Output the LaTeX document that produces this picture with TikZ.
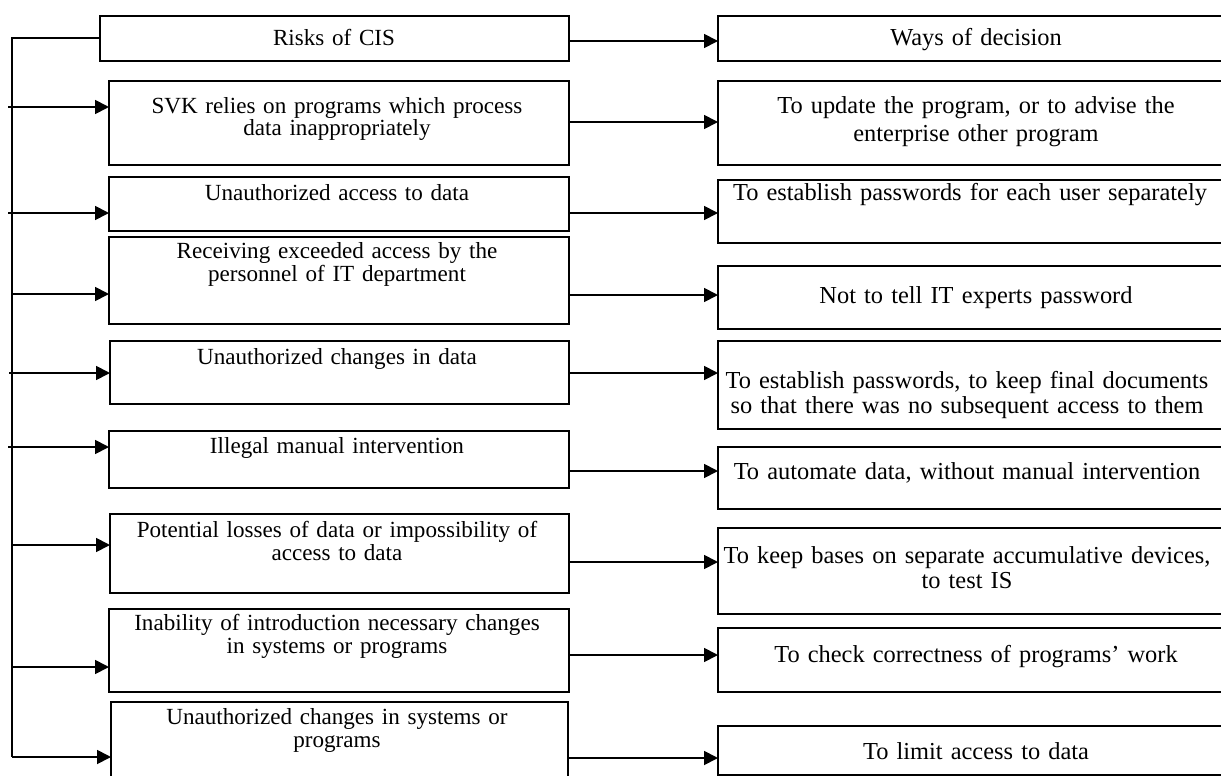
\documentclass[tikz,border=0pt]{standalone}
\usepackage{fontspec}
\setmainfont{Liberation Serif}
\usetikzlibrary{arrows.meta}
\begin{document}
\begin{tikzpicture}[x=1pt,y=-1pt,
  boxsty/.style={draw, line width=1.8pt, anchor=north west, inner sep=0pt, outer sep=0pt},
  ltxt/.style={anchor=base, align=center, text width=460pt, inner sep=0pt, font=\fontsize{23.1}{23}\selectfont},
  rtxt/.style={anchor=base, align=center, text width=510pt, inner sep=0pt, font=\fontsize{24.4}{25}\selectfont},
  arr/.style={line width=1.8pt, -{Triangle[length=14pt,width=14pt]}},
  trunk/.style={line width=1.8pt}]
\useasboundingbox (0,0) rectangle (1221,776);
% left boxes
\node[boxsty, minimum width=469pt, minimum height=45pt] (L1) at (100,16) {};
\node[boxsty, minimum width=460pt, minimum height=84pt] (L2) at (109,81) {};
\node[boxsty, minimum width=460pt, minimum height=54pt] (L3) at (109,177) {};
\node[boxsty, minimum width=460pt, minimum height=87pt] (L4) at (109,237) {};
\node[boxsty, minimum width=459pt, minimum height=63pt] (L5) at (110,341) {};
\node[boxsty, minimum width=460pt, minimum height=57pt] (L6) at (109,431) {};
\node[boxsty, minimum width=459pt, minimum height=79pt] (L7) at (110,514) {};
\node[boxsty, minimum width=460pt, minimum height=83pt] (L8) at (109,609) {};
\node[boxsty, minimum width=457pt, minimum height=100pt] (L9) at (111,702) {};
% right boxes
\node[boxsty, minimum width=517pt, minimum height=45pt] (R1) at (718,16) {};
\node[boxsty, minimum width=517pt, minimum height=84pt] (R2) at (718,81) {};
\node[boxsty, minimum width=517pt, minimum height=63pt] (R3) at (718,180) {};
\node[boxsty, minimum width=517pt, minimum height=63pt] (R4) at (718,266) {};
\node[boxsty, minimum width=517pt, minimum height=88pt] (R5) at (718,341) {};
\node[boxsty, minimum width=517pt, minimum height=62pt] (R6) at (718,447) {};
\node[boxsty, minimum width=517pt, minimum height=86pt] (R7) at (718,528) {};
\node[boxsty, minimum width=517pt, minimum height=64pt] (R8) at (718,628) {};
\node[boxsty, minimum width=517pt, minimum height=49pt] (R9) at (718,726) {};
% left texts
\node[ltxt] (tL1) at (334,46) {Risks of CIS};
\node[ltxt] (tL2) at (337,113) {SVK relies on programs which process\\data inappropriately};
\node[ltxt] (tL3) at (337,200) {Unauthorized access to data};
\node[ltxt] (tL4) at (337,258) {Receiving exceeded access by the\\personnel of IT department};
\node[ltxt] (tL5) at (337,364) {Unauthorized changes in data};
\node[ltxt] (tL6) at (337,453) {Illegal manual intervention};
\node[ltxt] (tL7) at (337,537) {Potential losses of data or impossibility of\\access to data};
\node[ltxt] (tL8) at (337,630) {Inability of introduction necessary changes\\in systems or programs};
\node[ltxt] (tL9) at (337,724) {Unauthorized changes in systems or\\programs};
% right texts
\node[rtxt] (tR1) at (976,46) {Ways of decision};
\node[rtxt, font=\fontsize{24.4}{28.5}\selectfont] (tR2) at (976,113) {To update the program, or to advise the\\enterprise other program};
\node[rtxt] (tR3) at (970,200) {To establish passwords for each user separately};
\node[rtxt] (tR4) at (976,303) {Not to tell IT experts password};
\node[rtxt] (tR5) at (967,388) {To establish passwords, to keep final documents\\so that there was no subsequent access to them};
\node[rtxt] (tR6) at (967,479) {To automate data, without manual intervention};
\node[rtxt] (tR7) at (967,563) {To keep bases on separate accumulative devices,\\to test IS};
\node[rtxt] (tR8) at (976,662) {To check correctness of programs’ work};
\node[rtxt] (tR9) at (976,759) {To limit access to data};
% horizontal arrows
\draw[arr] (L1.east |- 0,41) -- (R1.west |- 0,41);
\draw[arr] (L2.east |- 0,122) -- (R2.west |- 0,122);
\draw[arr] (L3.east |- 0,213) -- (R3.west |- 0,213);
\draw[arr] (L4.east |- 0,295) -- (R4.west |- 0,295);
\draw[arr] (L5.east |- 0,373) -- (R5.west |- 0,373);
\draw[arr] (L6.east |- 0,471) -- (R6.west |- 0,471);
\draw[arr] (L7.east |- 0,562) -- (R7.west |- 0,562);
\draw[arr] (L8.east |- 0,655) -- (R8.west |- 0,655);
\draw[arr] (L9.east |- 0,758) -- (R9.west |- 0,758);
% trunk
\coordinate (ttop) at (12,38);
\coordinate (tbot) at (12,757);
\draw[trunk] (L1.west |- ttop) -- (ttop) -- (tbot);
\coordinate (b2) at (8,107);
\coordinate (b3) at (8,213);
\coordinate (b4) at (12,294);
\coordinate (b5) at (9,373);
\coordinate (b6) at (8,447);
\coordinate (b7) at (12,545);
\coordinate (b8) at (12,667);
\coordinate (b9) at (12,757);
\draw[arr] (b2) -- (L2.west |- b2);
\draw[arr] (b3) -- (L3.west |- b3);
\draw[arr] (b4) -- (L4.west |- b4);
\draw[arr] (b5) -- (L5.west |- b5);
\draw[arr] (b6) -- (L6.west |- b6);
\draw[arr] (b7) -- (L7.west |- b7);
\draw[arr] (b8) -- (L8.west |- b8);
\draw[arr] (b9) -- (L9.west |- b9);
\end{tikzpicture}
\end{document}
